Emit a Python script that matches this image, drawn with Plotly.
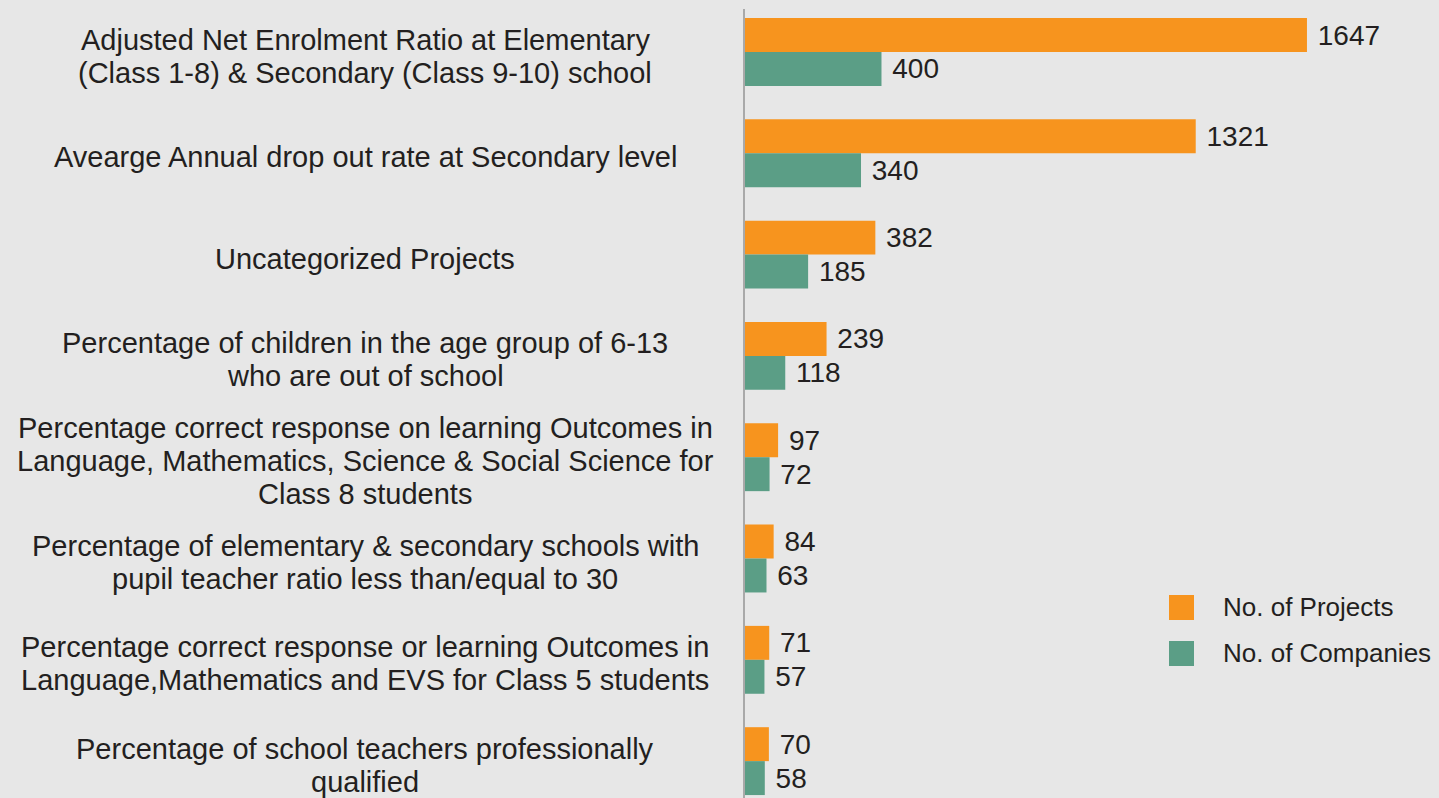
import plotly.graph_objects as go

categories = [
    "Adjusted Net Enrolment Ratio at Elementary<br>(Class 1-8) & Secondary (Class 9-10) school",
    "Avearge Annual drop out rate at Secondary level",
    "Uncategorized Projects",
    "Percentage of children in the age group of 6-13<br>who are out of school",
    "Percentage correct response on learning Outcomes in<br>Language, Mathematics, Science & Social Science for<br>Class 8 students",
    "Percentage of elementary & secondary schools with<br>pupil teacher ratio less than/equal to 30",
    "Percentage correct response or learning Outcomes in<br>Language,Mathematics and EVS for Class 5 students",
    "Percentage of school teachers professionally<br>qualified",
]
projects = [1647, 1321, 382, 239, 97, 84, 71, 70]
companies = [400, 340, 185, 118, 72, 63, 57, 58]
series_names = ["No. of Projects", "No. of Companies"]

ORANGE = "#F7941E"
GREEN = "#5B9E86"
BG = "#E7E7E7"
TXT = "#231F20"
FONT = "Liberation Sans, Arial, Helvetica, sans-serif"

ids = list(range(len(categories)))

fig = go.Figure()
for name, vals, col in [(series_names[0], projects, ORANGE), (series_names[1], companies, GREEN)]:
    fig.add_trace(go.Bar(
        y=ids, x=vals, orientation="h", name=name,
        marker=dict(color=col, line=dict(width=0)),
        texttemplate=" %{x}", textposition="outside",
        textfont=dict(size=28, color=TXT, family=FONT),
        constraintext="none", cliponaxis=False, showlegend=False,
        hoverinfo="skip",
    ))

# category labels, centred in the left area, one annotation per line (tight leading)
LINE = 33
for i, c in enumerate(categories):
    lines = c.split("<br>")
    n = len(lines)
    for k, ln in enumerate(lines):
        off = (k - (n - 1) / 2) * LINE + 4
        fig.add_annotation(
            x=365 / 1439, xref="paper", y=i, yref="y", text=ln,
            showarrow=False, xanchor="center", yanchor="middle", yshift=-off,
            font=dict(size=29, color=TXT, family=FONT),
        )

# legend (squares + text)
leg = [(series_names[0], ORANGE, 0.2256, 0.2573), (series_names[1], GREEN, 0.1673, 0.1990)]
for name, col, y0, y1 in leg:
    fig.add_shape(type="rect", xref="paper", yref="paper",
                  x0=1169 / 1439, x1=1194 / 1439, y0=y0, y1=y1,
                  fillcolor=col, line=dict(width=0))
    fig.add_annotation(x=1221 / 1439, xref="paper", y=(y0 + y1) / 2, yref="paper",
                       text=name, showarrow=False, xanchor="left", yanchor="middle",
                       font=dict(size=26, color=TXT, family=FONT))

fig.update_layout(
    width=1439, height=798,
    margin=dict(l=0, r=0, t=9, b=0),
    paper_bgcolor=BG, plot_bgcolor=BG,
    barmode="group", bargap=0.33, bargroupgap=0,
    font=dict(family=FONT, color=TXT),
    xaxis=dict(domain=[745 / 1439, 1], range=[0, 2034], visible=False, fixedrange=True),
    yaxis=dict(range=[7.364, -0.4245], showticklabels=False, showgrid=False,
               zeroline=False, showline=True, linecolor="#A9A9A9", linewidth=1.5,
               ticks="", fixedrange=True),
)

fig.write_html(
    "out.html",
    config={"displayModeBar": False},
    post_script="document.body.style.margin='0';document.body.style.overflow='hidden';document.body.style.background='#E7E7E7';",
)
